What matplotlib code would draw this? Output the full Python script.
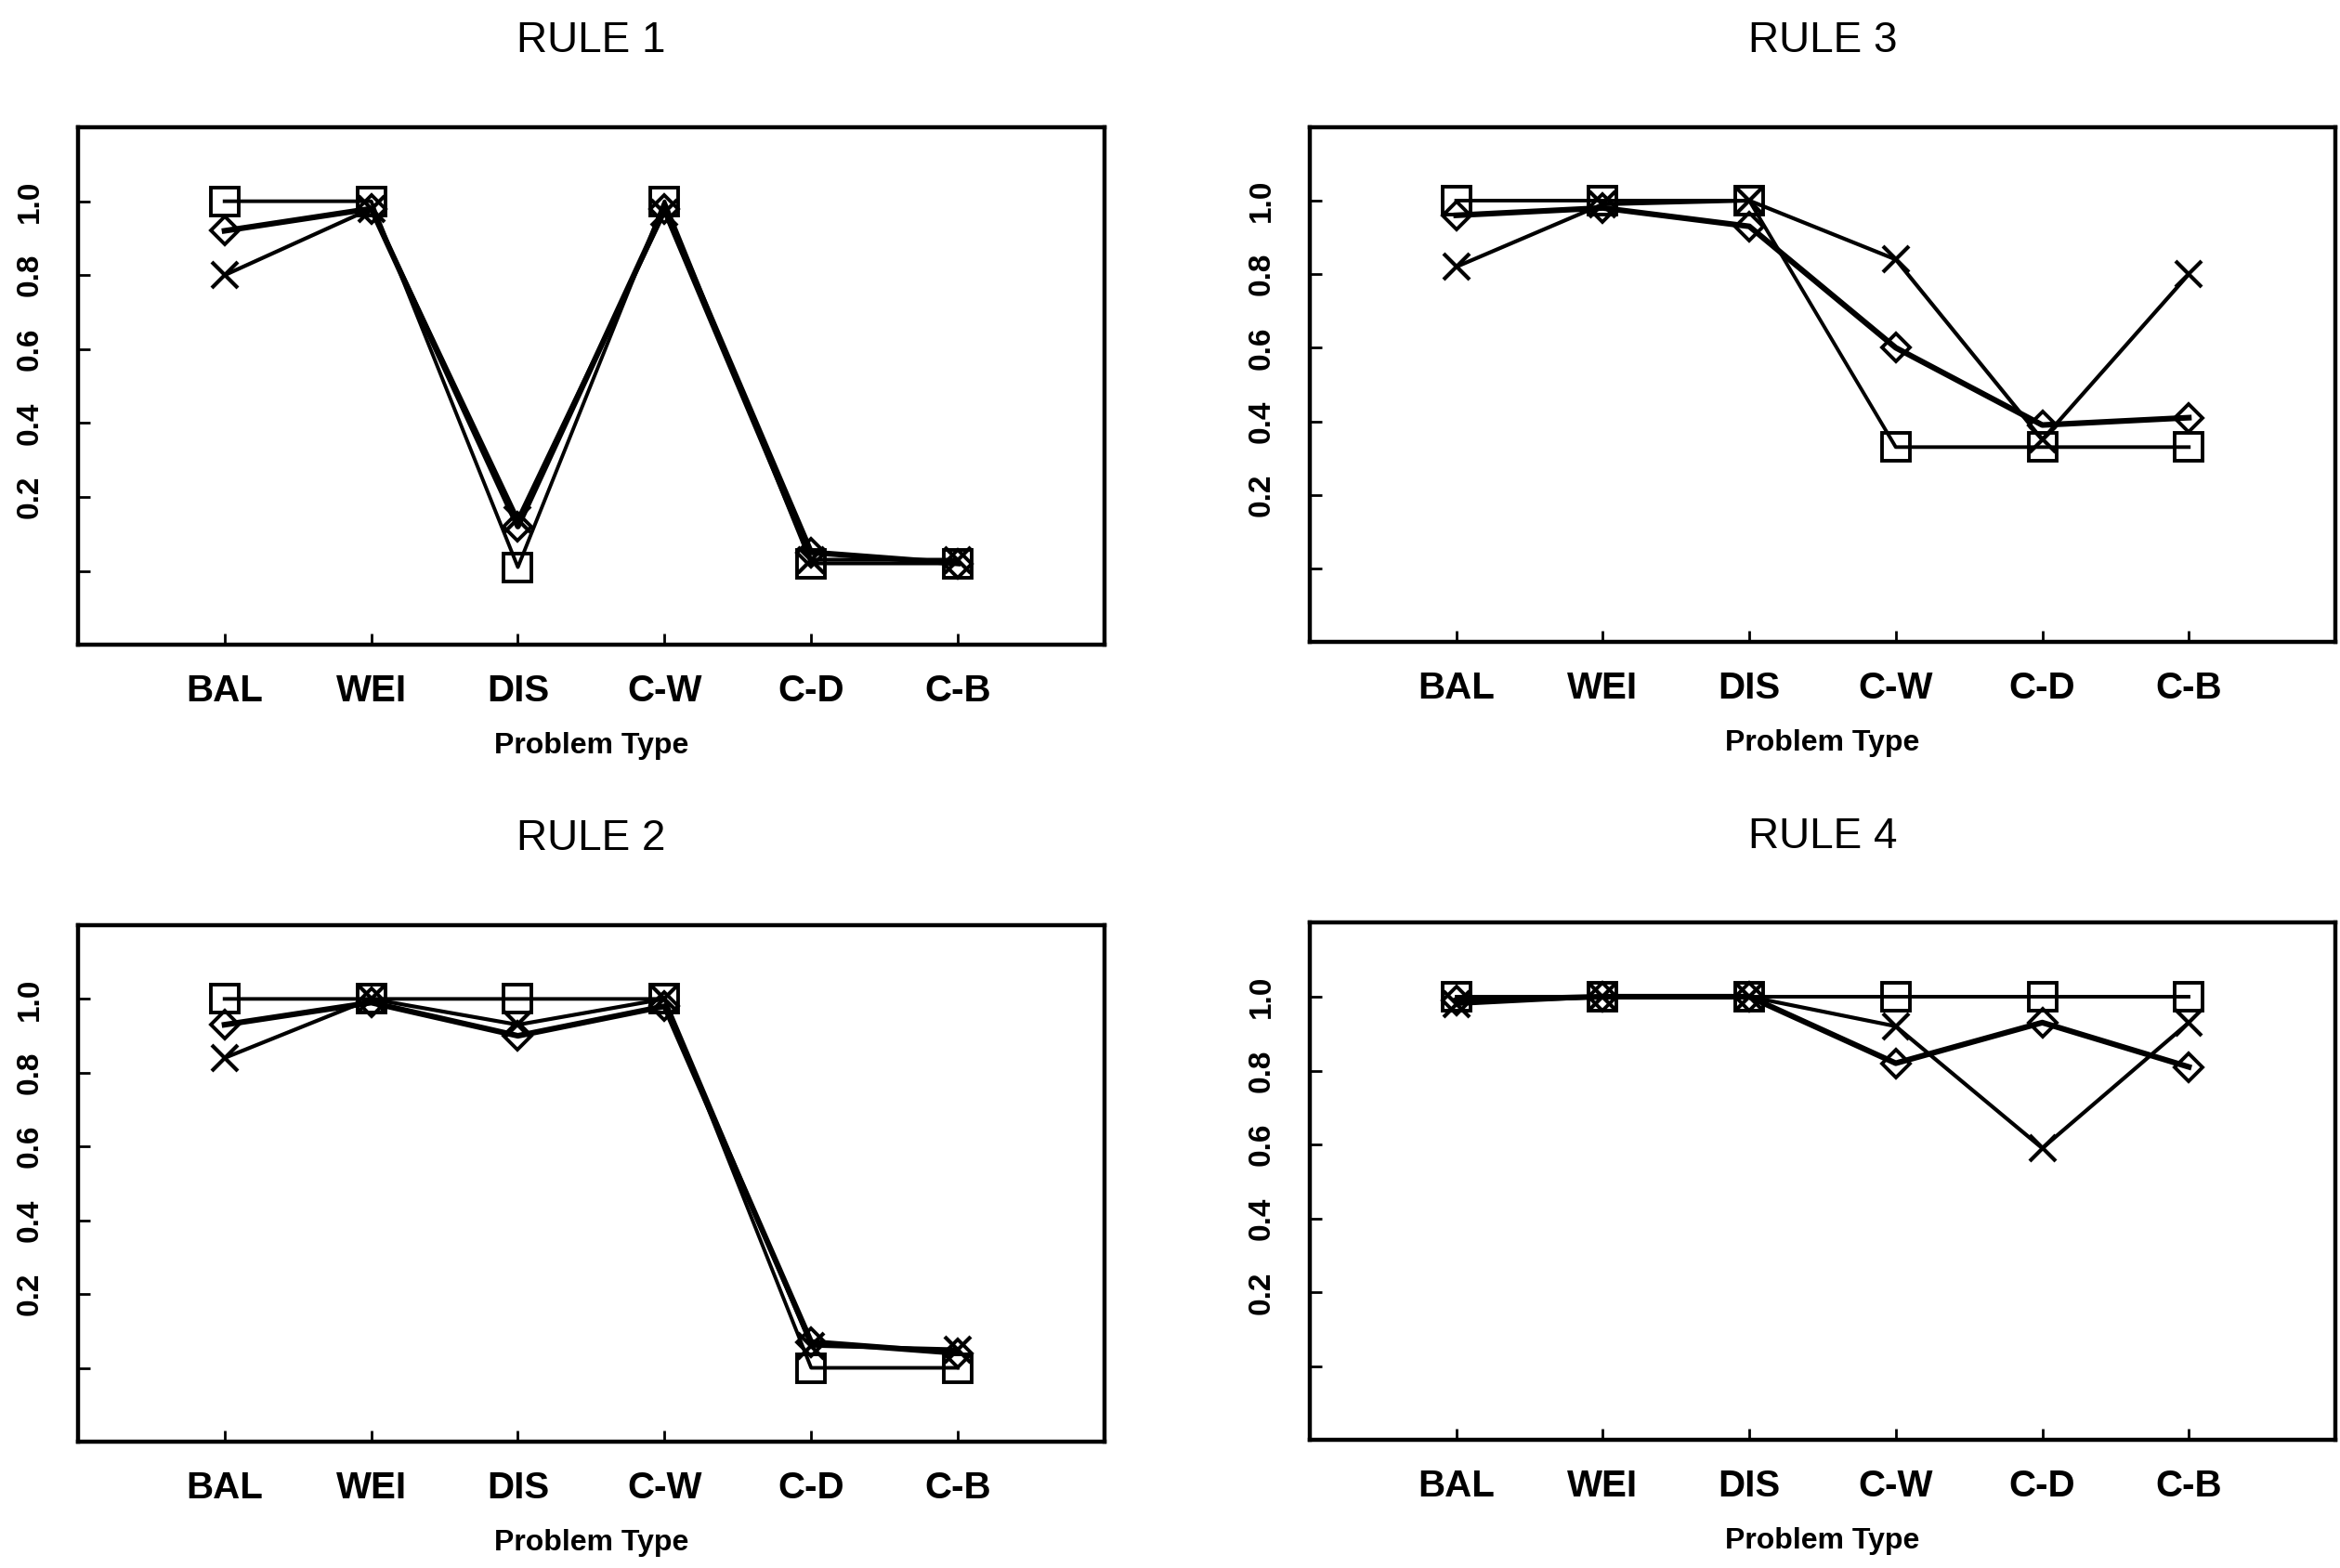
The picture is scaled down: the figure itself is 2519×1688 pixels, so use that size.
import matplotlib
matplotlib.use("Agg")
import matplotlib.pyplot as plt

plt.rcParams['font.family'] = ['Liberation Sans', 'DejaVu Sans']

# problem types on the x axis
problems = ["BAL", "WEI", "DIS", "C-W", "C-D", "C-B"]
xpos = [1, 2, 3, 4, 5, 6]

# proportion correct
rule1_square = [1.00, 1.00, 0.01, 1.00, 0.02, 0.02]
rule1_diamond = [0.92, 0.98, 0.12, 0.98, 0.05, 0.02]
rule1_cross = [0.80, 0.98, 0.14, 0.97, 0.03, 0.03]

rule2_square = [1.00, 1.00, 1.00, 1.00, 0.00, 0.00]
rule2_diamond = [0.93, 0.99, 0.90, 0.98, 0.07, 0.04]
rule2_cross = [0.84, 1.00, 0.93, 1.00, 0.06, 0.05]

rule3_square = [1.00, 1.00, 1.00, 0.33, 0.33, 0.33]
rule3_diamond = [0.96, 0.98, 0.93, 0.60, 0.39, 0.41]
rule3_cross = [0.82, 0.99, 1.00, 0.84, 0.35, 0.80]

rule4_square = [1.00, 1.00, 1.00, 1.00, 1.00, 1.00]
rule4_diamond = [0.99, 1.00, 1.00, 0.82, 0.93, 0.81]
rule4_cross = [0.98, 1.00, 1.00, 0.92, 0.59, 0.93]

panels = [
    ("RULE 1", rule1_square, rule1_diamond, rule1_cross, [0.0333, 0.5888, 0.4387, 0.330]),
    ("RULE 3", rule3_square, rule3_diamond, rule3_cross, [0.5597, 0.5905, 0.4383, 0.3285]),
    ("RULE 2", rule2_square, rule2_diamond, rule2_cross, [0.0333, 0.0806, 0.4387, 0.3294]),
    ("RULE 4", rule4_square, rule4_diamond, rule4_cross, [0.5597, 0.0815, 0.4383, 0.3300]),
]

fig = plt.figure(figsize=(25.19, 16.88), dpi=100)

for title, sq, dm, cr, rect in panels:
    ax = fig.add_axes(rect)
    ax.plot(xpos, sq, color="black", lw=2.8, marker="s", ms=21, mew=2.8,
            fillstyle="none", zorder=3)
    ax.plot(xpos, dm, color="black", lw=4.4, marker="D", ms=15, mew=2.8,
            fillstyle="none", zorder=3)
    ax.plot(xpos, cr, color="black", lw=3.0, marker="x", ms=20, mew=3.0,
            zorder=3)

    ax.set_xlim(0, 7)
    ax.set_ylim(-0.2, 1.2)
    ax.set_xticks(xpos)
    ax.set_xticklabels(problems, fontsize=29, fontweight="bold")
    ax.set_yticks([0.0, 0.2, 0.4, 0.6, 0.8, 1.0])
    ax.set_yticklabels(["", "0.2", "0.4", "0.6", "0.8", "1.0"], fontsize=24,
                       fontweight="bold", rotation=90, va="center")
    ax.tick_params(axis="x", direction="in", length=9, width=2, pad=22)
    ax.tick_params(axis="y", direction="in", length=9, width=2, pad=26)
    for s in ax.spines.values():
        s.set_linewidth(3.2)
    ax.set_xlabel("Problem Type", fontsize=23, fontweight="bold", labelpad=18)

    cx = rect[0] + rect[2] / 2
    ty = rect[1] + rect[3] + 0.055
    fig.text(cx, ty, title, ha="center", va="center", fontsize=33)

fig.savefig("out.png", dpi=100)
